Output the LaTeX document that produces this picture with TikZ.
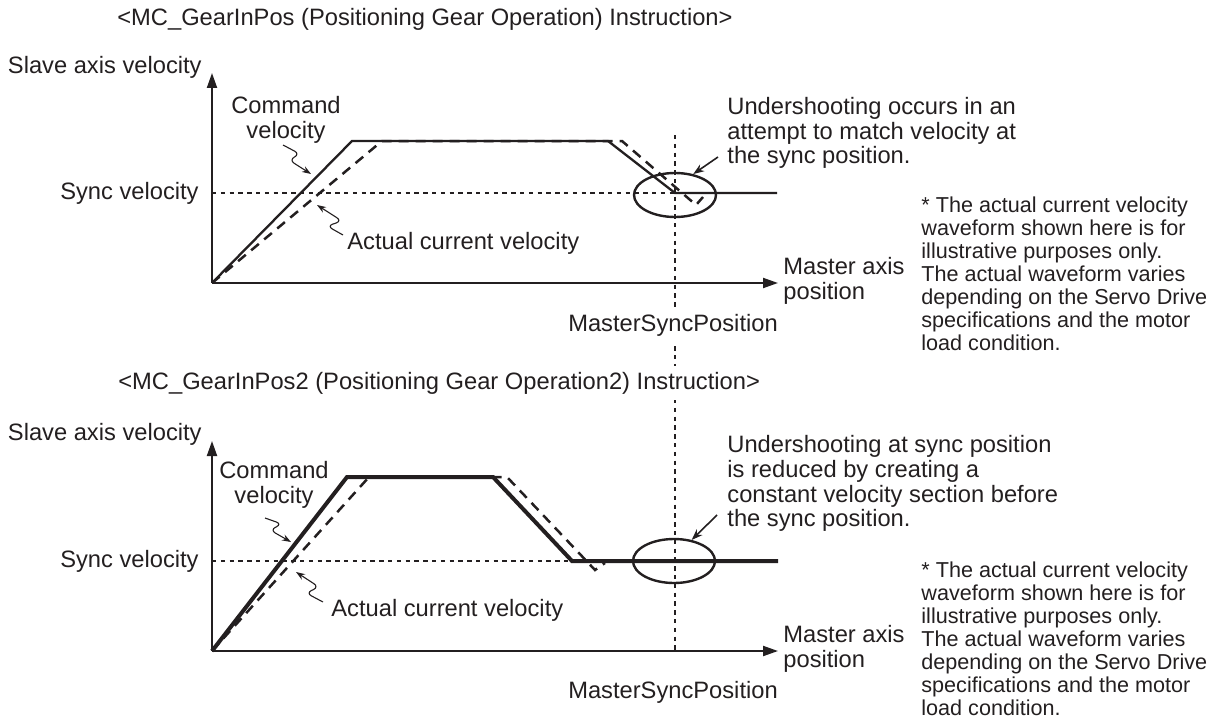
\documentclass[tikz,border=0pt]{standalone}
\usepackage{fontspec}
\setmainfont{Liberation Sans}
\usetikzlibrary{arrows.meta,shapes.geometric}
\definecolor{ink}{HTML}{231F20}

\begin{document}
\begin{tikzpicture}[x=0.5pt,y=-0.5pt,
    every node/.style={font=\fontsize{11.85}{12.4}\selectfont,text=ink,inner sep=1pt},
    remark/.style={anchor=west,align=left,font=\fontsize{10.8}{11.5}\selectfont},
    axis/.style={draw=ink,line width=1pt,-{Triangle[length=7.5pt,width=5pt]}},
    guide/.style={draw=ink,line width=0.6pt,dash pattern=on 2.2pt off 2.2pt},
    cmdline/.style={draw=ink,line width=1.15pt},
    actline/.style={draw=ink,line width=1.25pt,dash pattern=on 5pt off 3.5pt},
    squig/.style={draw=ink,line width=0.55pt,rounded corners=3pt,-{Stealth[length=4.5pt,width=3.2pt]}},
    callout/.style={draw=ink,line width=0.8pt,-{Stealth[length=5.5pt,width=4pt]}},
    ring/.style={draw=ink,line width=1.2pt,ellipse,minimum width=41pt,minimum height=22pt,inner sep=0pt}]
  \useasboundingbox (0,0) rectangle (1224,722);
  % MasterSyncPosition marker, runs through both graphs
  \draw[guide] (675,135) -- (675,651);

  % --- MC_GearInPos ---
  \node[anchor=west] (ttl1) at (115,19) {<MC\_GearInPos (Positioning Gear Operation) Instruction>};
  \coordinate (o1) at (212,283);
  \coordinate (ytop1) at (212,73);
  \coordinate (xend1) at (778,283);
  \draw[axis] (o1) -- (ytop1);
  \draw[axis] (o1) -- (xend1);
  \draw[guide] (212,193) -- (675,193);
  \draw[actline] (o1) -- (382,141) -- (622,141) -- (696,205) -- (703,197);
  \draw[cmdline] (o1) -- (352,141) -- (608,141) -- (675,193) -- (777,193);
  \node[ring] (ell1) at (675,195) {};
  \node[anchor=east] (ylab1) at (204,67) {Slave axis velocity};
  \node[anchor=east] (sync1) at (201,193) {Sync velocity};
  \node[align=center] (cmd1) at (286,120) {Command\\velocity};
  \node[anchor=west] (act1) at (345,243) {Actual current velocity};
  \node[anchor=west,align=left] (xlab1) at (781,281) {Master axis\\position};
  \node[fill=white,inner sep=3pt] (msp1) at (673,325) {MasterSyncPosition};
  \node[anchor=west,align=left] (und1) at (725,133)
    {Undershooting occurs in an\\attempt to match velocity at\\the sync position.};
  \node[remark] (note1) at (919,274)
    {* The actual current velocity\\waveform shown here is for\\illustrative purposes only.\\The actual waveform varies\\depending on the Servo Drive\\specifications and the motor\\load condition.};
  \coordinate (co1) at (718,157);
  \draw[callout] (co1) -- (ell1.49);
  \coordinate (cq1) at (283,145);
  \coordinate (cp1) at (311,174);
  \draw[squig] (cq1) -- (300,154) -- (289,160) -- (cp1);
  \coordinate (aq1) at (343,235);
  \coordinate (ap1) at (317,205);
  \draw[squig] (aq1) -- (327,226) -- (342,221) -- (ap1);

  % --- MC_GearInPos2 ---
  \begin{scope}[shift={(0,368)}]
    \node[anchor=west,fill=white,inner sep=3pt] (ttl2) at (112,15) {<MC\_GearInPos2 (Positioning Gear Operation2) Instruction>};
    \coordinate (o2) at (212,283);
    \coordinate (ytop2) at (212,73);
    \coordinate (xend2) at (778,283);
    \draw[axis] (o2) -- (ytop2);
    \draw[axis] (o2) -- (xend2);
    \draw[guide] (212,193) -- (572,193);
    \draw[actline] (o2) -- (369,109) -- (507,109) -- (595,202) -- (605,195);
    \draw[cmdline,line width=2pt] (o2) -- (347,109) -- (493,109) -- (572,193) -- (778,193);
    \node[ring] (ell2) at (674,193) {};
    \node[anchor=east] (ylab2) at (204,66) {Slave axis velocity};
    \node[anchor=east] (sync2) at (201,193) {Sync velocity};
    \node[align=center] (cmd2) at (274,117) {Command\\velocity};
    \node[anchor=west] (act2) at (329,242) {Actual current velocity};
    \node[anchor=west,align=left] (xlab2) at (781,281) {Master axis\\position};
    \node (msp2) at (673,324) {MasterSyncPosition};
    \node[anchor=west,align=left] (und2) at (725,115.5)
      {Undershooting at sync position\\is reduced by creating a\\constant velocity section before\\the sync position.};
    \node[remark] (note2) at (919,271)
      {* The actual current velocity\\waveform shown here is for\\illustrative purposes only.\\The actual waveform varies\\depending on the Servo Drive\\specifications and the motor\\load condition.};
    \coordinate (co2) at (717,147);
    \draw[callout] (co2) -- (ell2.50);
    \coordinate (cq2) at (265,150);
    \coordinate (cp2) at (291,174);
    \draw[squig] (cq2) -- (282,156) -- (270,162) -- (cp2);
    \coordinate (aq2) at (323,234);
    \coordinate (ap2) at (296,204);
    \draw[squig] (aq2) -- (306,225) -- (319,219) -- (ap2);
  \end{scope}
\end{tikzpicture}
\end{document}
